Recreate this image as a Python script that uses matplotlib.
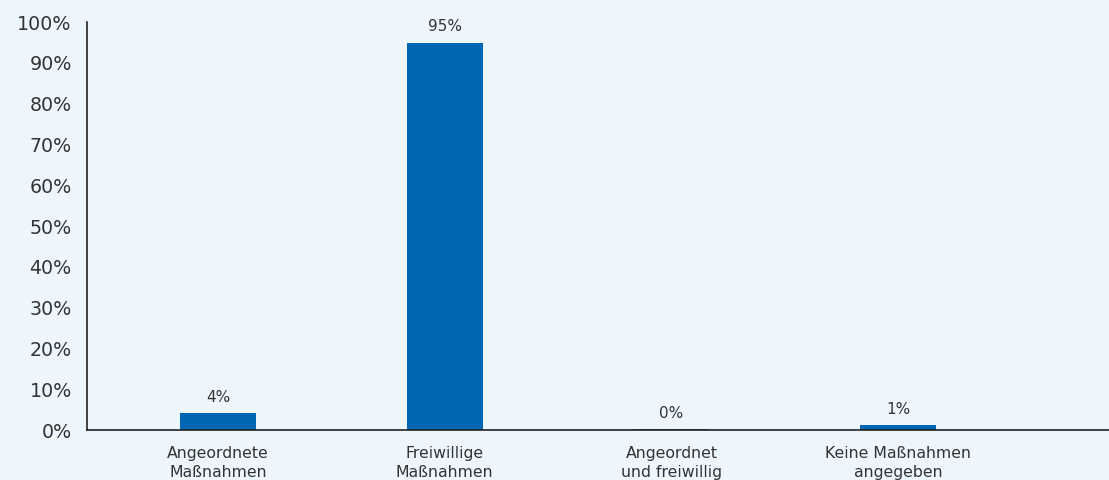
import matplotlib.pyplot as plt
import numpy as np

# data
categories = ['Angeordnete\nMaßnahmen', 'Freiwillige\nMaßnahmen',
              'Angeordnet\nund freiwillig', 'Keine Maßnahmen\nangegeben']
values = [4.2, 94.9, 0.2, 1.2]
value_labels = ['4%', '95%', '0%', '1%']
yticks = [0, 10, 20, 30, 40, 50, 60, 70, 80, 90, 100]

bg = '#ECF6FC'
bar_color = '#0066B3'
text_color = '#333333'

fig = plt.figure(figsize=(11.09, 4.8), dpi=100, facecolor=bg)
ax = fig.add_axes([87 / 1109, 50 / 480, 1 - 87 / 1109, 408 / 480])
ax.set_facecolor(bg)

x = np.arange(len(categories))
bars = ax.bar(x, values, width=0.335, color=bar_color, zorder=2)

for xi, v, lab in zip(x, values, value_labels):
    ax.annotate(lab, (xi, v), xytext=(0, 6), textcoords='offset points',
                ha='center', va='bottom', fontsize=11, color=text_color)

ax.set_xlim(-0.578, 3.93)
ax.set_ylim(0, 100)
ax.set_yticks(yticks)
ax.set_yticklabels([f'{t}%' for t in yticks], fontsize=13.7, color=text_color)
ax.set_xticks(x)
ax.set_xticklabels(categories, fontsize=11.3, color=text_color, linespacing=1.3)
ax.tick_params(axis='both', length=0)
ax.tick_params(axis='y', pad=11)
ax.tick_params(axis='x', pad=11.5)

for s in ['top', 'right']:
    ax.spines[s].set_visible(False)
ax.spines['left'].set_color('#222222')
ax.spines['bottom'].set_color('#222222')
ax.spines['left'].set_linewidth(1.2)
ax.spines['bottom'].set_linewidth(1.2)

fig.savefig('out.png', dpi=100, facecolor=bg)
